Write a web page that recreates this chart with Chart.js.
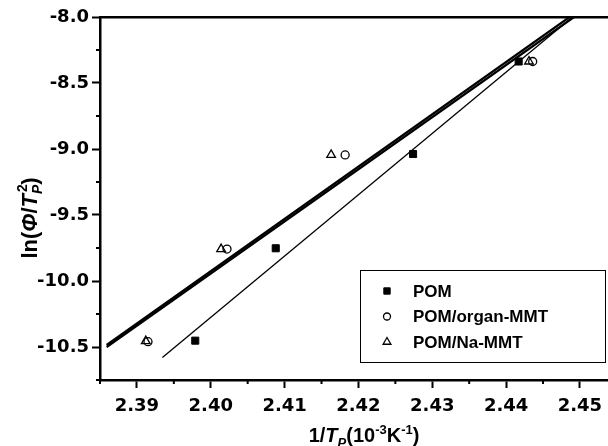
<!DOCTYPE html>
<html>
<head>
<meta charset="utf-8">
<script src="https://cdn.jsdelivr.net/npm/chart.js"></script>
<style>html,body{margin:0;padding:0;background:#fff}</style>
</head>
<body>
<canvas id="kissinger" width="608" height="446"></canvas>
<script>
// tick values
const xTicks = [2.39, 2.40, 2.41, 2.42, 2.43, 2.44, 2.45];
const xMinorTicks = [2.385, 2.395, 2.405, 2.415, 2.425, 2.435, 2.445];
const yTicks = [-8.0, -8.5, -9.0, -9.5, -10.0, -10.5];
const yMinorTicks = [-8.25, -8.75, -9.25, -9.75, -10.25, -10.75];

const seriesNames = ['POM', 'POM/organ-MMT', 'POM/Na-MMT'];

// measured points, 1/Tp (10^-3 K^-1) vs ln(phi/Tp^2)
const pomX = [2.3979, 2.4088, 2.4274, 2.4417];
const pomY = [-10.452, -9.752, -9.038, -8.337];
const organX = [2.3915, 2.4022, 2.4182, 2.4436];
const organY = [-10.46, -9.758, -9.045, -8.337];
const naX = [2.3912, 2.4014, 2.4163, 2.4431];
const naY = [-10.455, -9.758, -9.045, -8.337];

// fitted lines (end points)
const pomFitX = [2.39345, 2.44899];
const pomFitY = [-10.58, -8.0];
const organFitX = [2.3859, 2.4486];
const organFitY = [-10.485, -8.0];
const naFitX = [2.3859, 2.4492];
const naFitY = [-10.50, -8.0];

const toXY = (xs, ys) => xs.map((x, i) => ({ x: x, y: ys[i] }));

const X_MIN = 2.385, X_MAX = 2.4538, Y_MIN = -10.75, Y_MAX = -8.0;

function fitLine(xs, ys, w) {
  return {
    type: 'line', data: toXY(xs, ys), showLine: true, borderColor: '#000',
    borderWidth: w, pointRadius: 0, fill: false, tension: 0
  };
}

const markers = [
  { label: seriesNames[0], data: toXY(pomX, pomY), pointStyle: 'rect', pointRadius: 5,
    backgroundColor: '#000', borderColor: '#000', pointBorderWidth: 1 },
  { label: seriesNames[1], data: toXY(organX, organY), pointStyle: 'circle', pointRadius: 4,
    backgroundColor: 'rgba(0,0,0,0)', borderColor: '#000', pointBorderWidth: 1.3 },
  { label: seriesNames[2], data: toXY(naX, naY), pointStyle: 'triangle', pointRadius: 5,
    backgroundColor: 'rgba(0,0,0,0)', borderColor: '#000', pointBorderWidth: 1.3 }
];

const extras = {
  id: 'extras',
  afterDraw(chart) {
    const ctx = chart.ctx;
    const xs = chart.scales.x, ys = chart.scales.y;
    const area = chart.chartArea;
    ctx.save();
    // minor ticks
    ctx.strokeStyle = '#000';
    ctx.lineWidth = 2;
    ctx.beginPath();
    xMinorTicks.forEach(v => {
      const p = xs.getPixelForValue(v);
      if (p < area.left - 1 || p > area.right) return;
      ctx.moveTo(p, area.bottom); ctx.lineTo(p, area.bottom + 4);
    });
    yMinorTicks.forEach(v => {
      const p = ys.getPixelForValue(v);
      ctx.moveTo(area.left, p); ctx.lineTo(area.left - 4, p);
    });
    ctx.stroke();

    // legend
    const lx = 360, ly = 270, lw = 245, lh = 92;
    ctx.fillStyle = '#fff';
    ctx.fillRect(lx, ly, lw, lh);
    ctx.lineWidth = 1;
    ctx.strokeRect(lx + 0.5, ly + 0.5, lw, lh);
    ctx.font = 'bold 17px "Liberation Sans", Arial, sans-serif';
    ctx.textBaseline = 'middle';
    ctx.textAlign = 'left';
    markers.forEach((m, i) => {
      const cy = ly + 21 + i * 25.5;
      ctx.fillStyle = m.backgroundColor;
      ctx.strokeStyle = m.borderColor;
      ctx.lineWidth = m.pointBorderWidth;
      Chart.helpers.drawPoint(ctx, { pointStyle: m.pointStyle, radius: m.pointRadius - 0.5,
        borderWidth: m.pointBorderWidth, rotation: 0 }, lx + 27, cy);
      ctx.fillStyle = '#000';
      ctx.fillText(m.label, lx + 53, cy + 1);
    });

    // axis titles
    const f = (it, sz) => (it ? 'italic ' : '') + 'bold ' + sz + 'px "Liberation Sans", Arial, sans-serif';
    function rich(parts, cx, by, big) {
      let w = 0;
      parts.forEach(p => { ctx.font = f(p.it, p.sz || big); p.w = ctx.measureText(p.t).width; w += p.stack ? 0 : p.w; });
      let x = cx - w / 2;
      let prevX = x;
      ctx.textAlign = 'left';
      ctx.textBaseline = 'alphabetic';
      ctx.fillStyle = '#000';
      parts.forEach(p => {
        ctx.font = f(p.it, p.sz || big);
        const px = p.stack ? prevX + 2 : x;
        ctx.fillText(p.t, px, by + (p.dy || 0));
        if (!p.stack) { prevX = x; x += p.w; }
      });
    }
    rich([
      { t: '1/' }, { t: 'T', it: true }, { t: 'P', it: true, sz: 13, dy: 5 },
      { t: '(10' }, { t: '-3', sz: 13, dy: -8 }, { t: 'K' }, { t: '-1', sz: 13, dy: -8 }, { t: ')' }
    ], 364, 442, 20);

    ctx.translate(37, 218);
    ctx.rotate(-Math.PI / 2);
    rich([
      { t: 'ln(' }, { t: '\u03A6', it: true }, { t: '/' }, { t: 'T', it: true },
      { t: 'P', it: true, sz: 14, dy: 5 }, { t: '2', sz: 14, dy: -10, stack: true }, { t: ')' }
    ], 0, 0, 22);
    ctx.restore();
  }
};

const tickFont = { family: '"DejaVu Sans", sans-serif', size: 18, weight: 'bold' };

new Chart(document.getElementById('kissinger').getContext('2d'), {
  type: 'scatter',
  data: {
    datasets: [
      markers[0], markers[1], markers[2],
      fitLine(pomFitX, pomFitY, 1.3),
      fitLine(organFitX, organFitY, 2.2),
      fitLine(naFitX, naFitY, 2.2)
    ]
  },
  options: {
    responsive: false,
    animation: false,
    layout: { autoPadding: false, padding: { left: 37, top: 17, right: 0, bottom: 30 } },
    plugins: { legend: { display: false }, tooltip: { enabled: false } },
    scales: {
      x: {
        type: 'linear', position: 'bottom', min: X_MIN, max: X_MAX,
        afterBuildTicks: s => { s.ticks = xTicks.map(v => ({ value: v })); },
        afterFit: s => { s.height = 36; s.paddingLeft = 0; s.paddingRight = 0; },
        grid: { display: true, drawOnChartArea: false, tickLength: 8, tickWidth: 2, tickColor: '#000' },
        border: { display: true, color: '#000', width: 2.5 },
        ticks: { color: '#000', font: tickFont, padding: 8, maxRotation: 0,
          callback: v => v.toFixed(2) }
      },
      xTop: {
        type: 'linear', position: 'top', min: X_MIN, max: X_MAX,
        grid: { display: false, drawTicks: false },
        border: { display: true, color: '#000', width: 2.5 },
        ticks: { display: false }
      },
      y: {
        type: 'linear', position: 'left', min: Y_MIN, max: Y_MAX,
        afterBuildTicks: s => { s.ticks = yTicks.map(v => ({ value: v })); },
        afterFit: s => { s.width = 63; s.paddingTop = 0; s.paddingBottom = 0; },
        grid: { display: true, drawOnChartArea: false, tickLength: 8, tickWidth: 2, tickColor: '#000' },
        border: { display: true, color: '#000', width: 2.5 },
        ticks: { color: '#000', font: tickFont, padding: 3,
          callback: v => v.toFixed(1) }
      }
    }
  },
  plugins: [extras]
});
</script>
</body>
</html>
